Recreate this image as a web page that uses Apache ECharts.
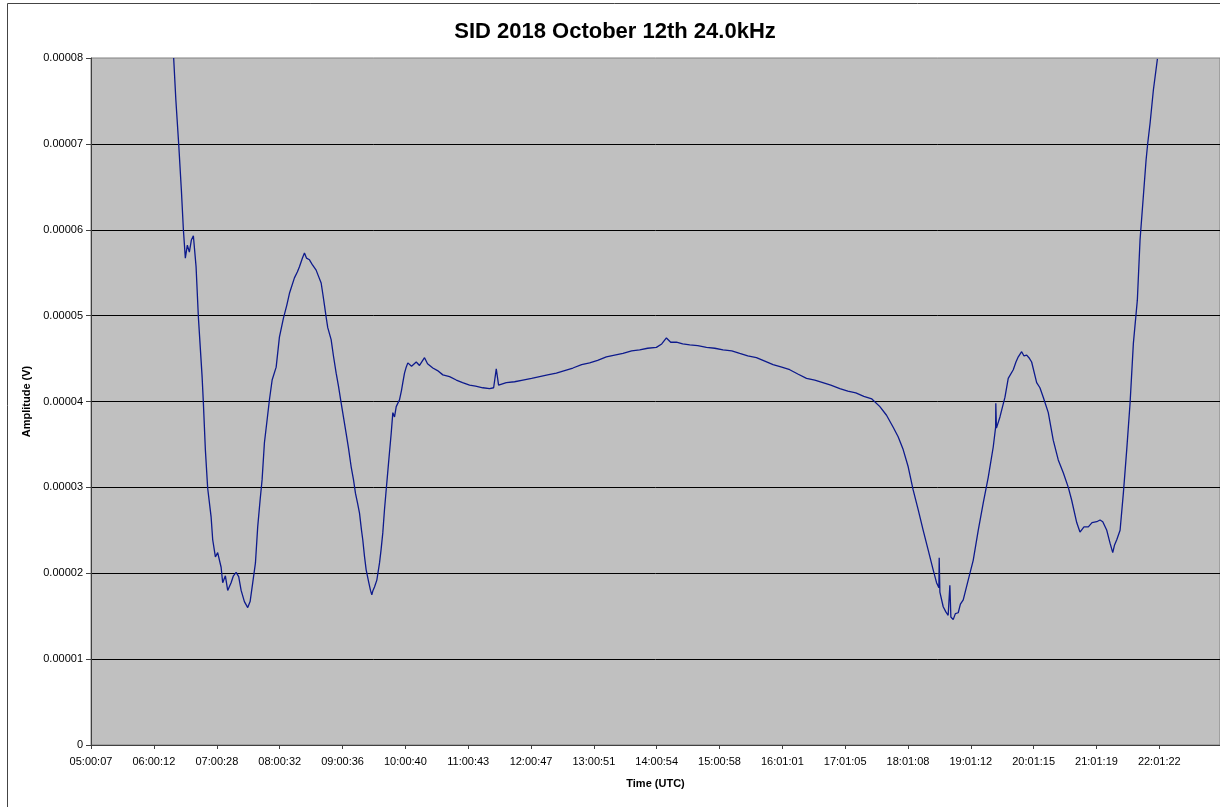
<!DOCTYPE html>
<html>
<head>
<meta charset="utf-8">
<style>
  html, body { margin: 0; padding: 0; background: #fff; }
  #chart { width: 1220px; height: 807px; }
</style>
<script src="https://cdn.jsdelivr.net/npm/echarts@6/dist/echarts.min.js"></script>
</head>
<body>
<div id="chart"></div>
<script>
// tick labels on the time axis
const tickLabels = ['05:00:07', '06:00:12', '07:00:28', '08:00:32', '09:00:36', '10:00:40',
    '11:00:43', '12:00:47', '13:00:51', '14:00:54', '15:00:58', '16:01:01', '17:01:05',
    '18:01:08', '19:01:12', '20:01:15', '21:01:19', '22:01:22'];

// samples: time in hours (UTC), amplitude in microvolts
const sampleHours = [
    6.319, 6.354, 6.399, 6.442, 6.474, 6.505, 6.537, 6.569, 6.601, 6.633,
    6.676, 6.713, 6.772, 6.792, 6.824, 6.861, 6.915, 6.941, 6.984, 7.020,
    7.075, 7.100, 7.143, 7.180, 7.234, 7.271, 7.314, 7.355, 7.394, 7.446,
    7.499, 7.537, 7.579, 7.622, 7.658, 7.696, 7.728, 7.765, 7.802, 7.845,
    7.888, 7.952, 8.004, 8.068, 8.121, 8.164, 8.243, 8.291, 8.323, 8.371,
    8.403, 8.435, 8.483, 8.531, 8.589, 8.626, 8.669, 8.698, 8.722, 8.749,
    8.774, 8.828, 8.865, 8.908, 8.945, 8.988, 9.024, 9.067, 9.104, 9.147,
    9.184, 9.216, 9.248, 9.280, 9.312, 9.332, 9.359, 9.386, 9.428, 9.455,
    9.476, 9.495, 9.519, 9.556, 9.599, 9.623, 9.651, 9.678, 9.705, 9.747,
    9.785, 9.811, 9.838, 9.865, 9.917, 9.949, 9.970, 9.997, 10.024, 10.050,
    10.109, 10.184, 10.236, 10.316, 10.364, 10.448, 10.523, 10.608, 10.715, 10.822,
    10.922, 11.034, 11.129, 11.246, 11.352, 11.417, 11.459, 11.496, 11.619, 11.751,
    11.883, 12.022, 12.150, 12.277, 12.416, 12.548, 12.680, 12.819, 12.947, 13.074,
    13.213, 13.345, 13.478, 13.616, 13.744, 13.871, 14.010, 14.095, 14.170, 14.238,
    14.329, 14.430, 14.542, 14.669, 14.808, 14.940, 15.072, 15.211, 15.338, 15.466,
    15.604, 15.737, 15.869, 16.008, 16.135, 16.263, 16.402, 16.534, 16.662, 16.789,
    16.933, 17.060, 17.188, 17.315, 17.443, 17.571, 17.677, 17.783, 17.862, 17.942,
    18.022, 18.101, 18.181, 18.261, 18.341, 18.420, 18.474, 18.511, 18.516, 18.527,
    18.580, 18.622, 18.659, 18.686, 18.702, 18.739, 18.774, 18.819, 18.854, 18.899,
    18.978, 19.058, 19.138, 19.218, 19.298, 19.377, 19.415, 19.418, 19.428, 19.484,
    19.564, 19.616, 19.696, 19.739, 19.776, 19.830, 19.867, 19.910, 19.946, 19.989,
    20.069, 20.121, 20.174, 20.254, 20.333, 20.413, 20.493, 20.573, 20.627, 20.707,
    20.759, 20.823, 20.892, 20.951, 21.026, 21.079, 21.122, 21.186, 21.238, 21.281,
    21.310, 21.345, 21.398, 21.450, 21.504, 21.557, 21.610, 21.673, 21.716, 21.812,
    21.839, 21.876, 21.929, 21.993
];
const amplitudeUV = [
    80.0, 75.1, 70.0, 64.6, 60.0, 56.7, 58.2, 57.4, 58.8, 59.3,
    55.7, 49.8, 42.9, 39.9, 34.4, 29.9, 26.6, 23.9, 21.9, 22.4,
    20.7, 18.9, 19.7, 18.0, 18.9, 19.7, 20.1, 19.6, 18.0, 16.7,
    16.0, 16.7, 18.9, 21.2, 25.4, 28.5, 30.9, 35.2, 37.5, 40.2,
    42.5, 44.0, 47.5, 49.7, 51.2, 52.6, 54.4, 55.1, 55.7, 56.7,
    57.3, 56.7, 56.5, 55.9, 55.3, 54.6, 53.8, 52.4, 51.2, 49.8,
    48.6, 47.2, 45.3, 43.3, 41.8, 39.8, 38.2, 36.3, 34.6, 32.4,
    30.9, 29.3, 28.2, 27.0, 25.0, 23.9, 22.0, 20.4, 18.9, 18.0,
    17.5, 18.0, 18.4, 19.2, 21.2, 22.7, 24.7, 27.4, 29.7, 33.2,
    36.3, 38.7, 38.2, 39.4, 40.2, 41.3, 42.2, 43.3, 44.0, 44.5,
    44.1, 44.6, 44.2, 45.1, 44.4, 43.9, 43.6, 43.1, 42.9, 42.5,
    42.2, 41.9, 41.8, 41.6, 41.5, 41.6, 43.8, 41.9, 42.2, 42.3,
    42.5, 42.7, 42.9, 43.1, 43.3, 43.6, 43.9, 44.3, 44.5, 44.8,
    45.2, 45.4, 45.6, 45.9, 46.0, 46.2, 46.3, 46.7, 47.4, 46.9,
    46.9, 46.7, 46.6, 46.5, 46.3, 46.2, 46.0, 45.9, 45.6, 45.3,
    45.1, 44.7, 44.3, 44.0, 43.7, 43.2, 42.7, 42.5, 42.2, 41.9,
    41.5, 41.2, 41.0, 40.6, 40.3, 39.4, 38.4, 37.0, 35.9, 34.4,
    32.4, 29.7, 27.4, 25.0, 22.7, 20.4, 18.9, 18.3, 21.8, 17.8,
    16.1, 15.5, 15.1, 18.6, 14.9, 14.6, 15.3, 15.4, 16.4, 16.9,
    19.2, 21.5, 25.0, 28.2, 31.2, 34.7, 37.0, 39.8, 36.9, 38.2,
    40.5, 42.7, 43.7, 44.6, 45.2, 45.8, 45.3, 45.4, 45.1, 44.6,
    42.2, 41.6, 40.5, 38.7, 35.5, 33.2, 31.7, 30.0, 28.5, 25.9,
    24.8, 25.4, 25.4, 25.9, 26.0, 26.2, 26.0, 25.0, 23.5, 22.4,
    23.3, 23.9, 25.0, 29.3, 34.4, 39.8, 46.8, 51.8, 58.8, 68.1,
    70.1, 72.4, 76.3, 79.9
];

function toHours(s) {
    const p = s.split(':').map(Number);
    return (p[0] * 3600 + p[1] * 60 + p[2]) / 3600;
}
function fmtTime(h) {
    let sec = Math.round(h * 3600);
    const hh = Math.floor(sec / 3600);
    sec -= hh * 3600;
    const mm = Math.floor(sec / 60);
    const ss = sec - mm * 60;
    const pad = (n) => (n < 10 ? '0' : '') + n;
    return pad(hh) + ':' + pad(mm) + ':' + pad(ss);
}

const tickHours = tickLabels.map(toHours);
const seriesData = sampleHours.map((h, i) => [h, amplitudeUV[i] * 1e-6]);

const chart = echarts.init(document.getElementById('chart'));
const option = {
    animation: false,
    backgroundColor: '#ffffff',
    textStyle: { fontFamily: 'Liberation Sans, Arial, sans-serif' },
    title: {
        text: 'SID 2018 October 12th 24.0kHz',
        left: 615,
        textAlign: 'center',
        top: 21,
        padding: 0,
        textStyle: { fontSize: 22, fontWeight: 'bold', color: '#000' },
    },
    graphic: [
        {
            type: 'rect',
            shape: { x: 7.5, y: 3.5, width: 1300, height: 900 },
            style: { fill: null, stroke: '#444', lineWidth: 1 },
            silent: true,
        },
    ],
    grid: {
        left: 91,
        right: 0,
        top: 58,
        bottom: 62,
        show: true,
        backgroundColor: '#c0c0c0',
        borderColor: '#808080',
        borderWidth: 1,
        containLabel: false,
    },
    xAxis: {
        type: 'value',
        min: toHours('05:00:07'),
        max: 22.99,
        name: 'Time (UTC)',
        nameLocation: 'middle',
        nameGap: 33,
        nameTextStyle: { fontSize: 11, fontWeight: 'bold', color: '#000' },
        axisLine: { lineStyle: { color: '#404040', width: 1 } },
        axisTick: { show: true, length: 4, inside: false, customValues: tickHours, lineStyle: { color: '#404040' } },
        axisLabel: {
            customValues: tickHours,
            formatter: (v) => fmtTime(v),
            fontSize: 11,
            color: '#000',
            margin: 11,
        },
        splitLine: { show: false },
    },
    yAxis: {
        type: 'value',
        min: 0,
        max: 0.00008,
        interval: 0.00001,
        name: 'Amplitude (V)',
        nameLocation: 'middle',
        nameGap: 52,
        nameTextStyle: { fontSize: 11, fontWeight: 'bold', color: '#000' },
        axisLine: { show: true, lineStyle: { color: '#404040', width: 1 } },
        axisTick: { show: true, length: 5, lineStyle: { color: '#404040' } },
        axisLabel: {
            formatter: (v) => (v === 0 ? '0' : v.toFixed(5)),
            fontSize: 11,
            color: '#000',
            margin: 8,
        },
        splitLine: {
            show: true,
            showMaxLine: false,
            lineStyle: { color: '#000000', width: 1 },
        },
    },
    series: [
        {
            type: 'line',
            data: seriesData,
            showSymbol: false,
            clip: true,
            lineStyle: { color: '#0d1a8c', width: 1.3 },
        },
    ],
};
chart.setOption(option);
window.addEventListener('resize', () => {
    chart.resize();
});
</script>
</body>
</html>
